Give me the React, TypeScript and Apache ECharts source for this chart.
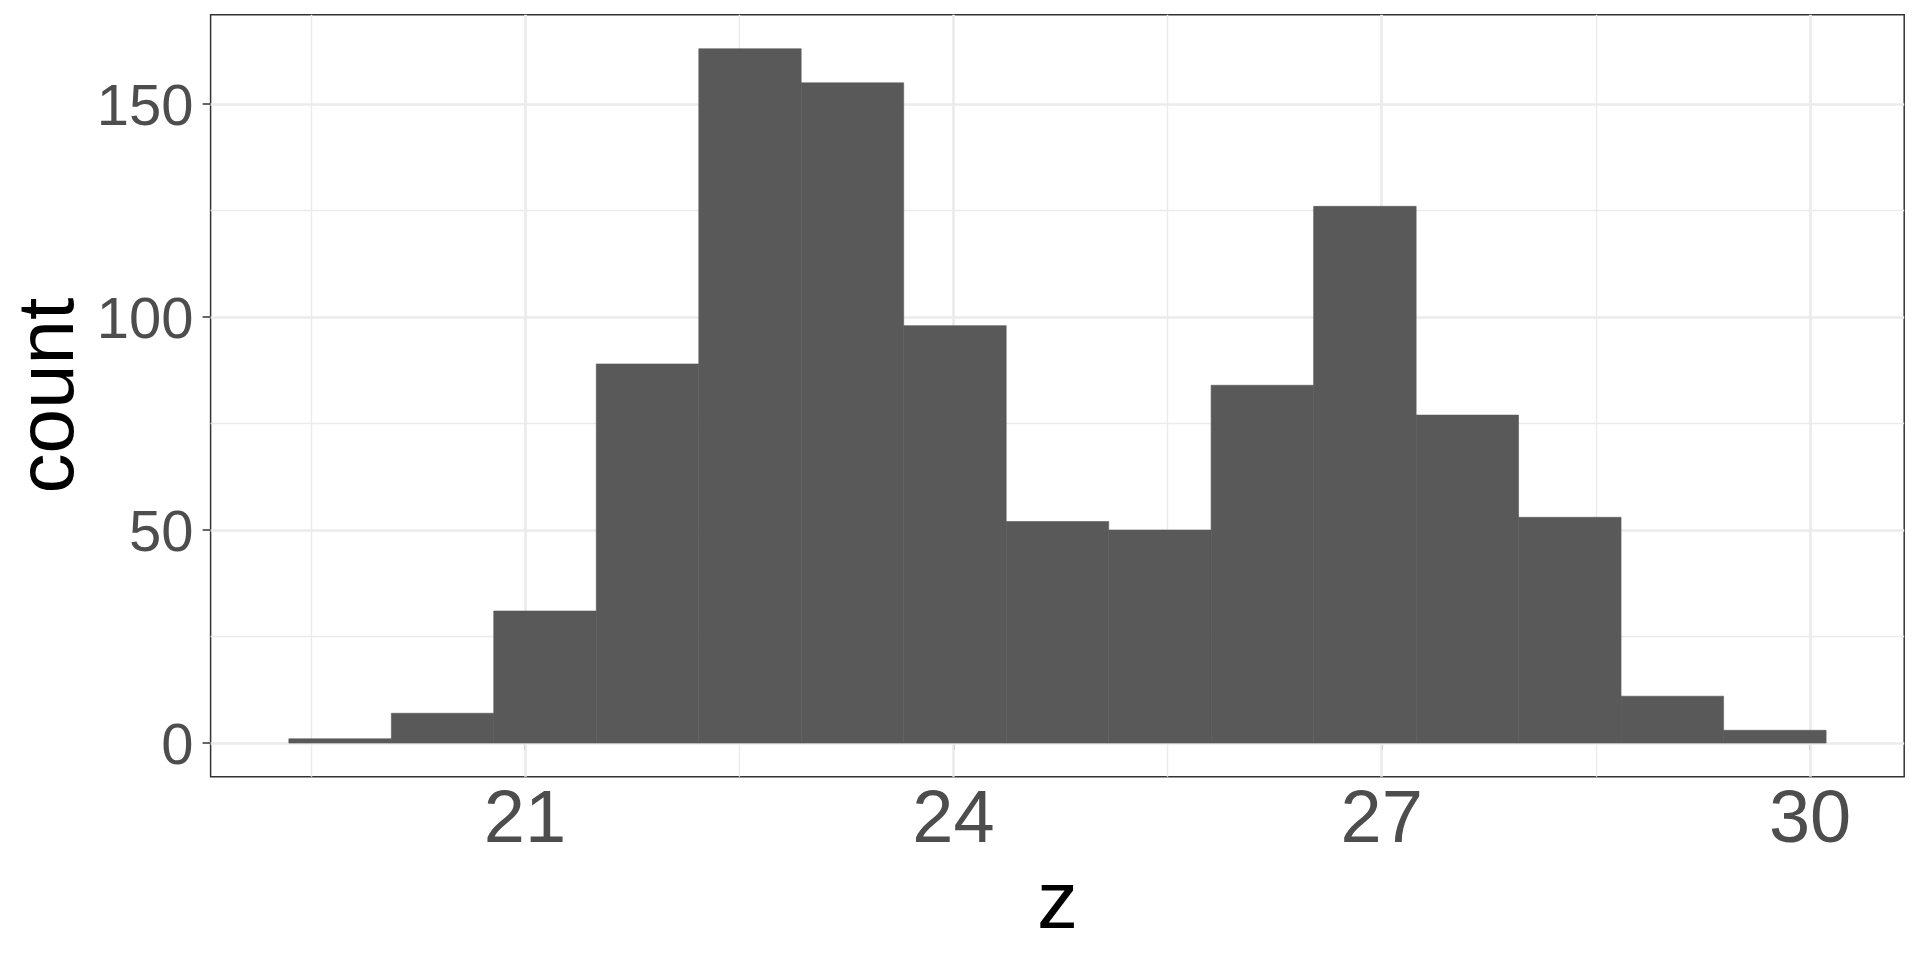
import { useEffect, useRef } from "react";
import * as echarts from "echarts";

// histogram of z, 15 bins
const binEdges = [19.346, 20.064, 20.781, 21.499, 22.217, 22.934, 23.652, 24.37, 25.088, 25.805, 26.523, 27.241, 27.958, 28.676, 29.394, 30.112];
const counts = [1, 7, 31, 89, 163, 155, 98, 52, 50, 84, 126, 77, 53, 11, 3];

const xTicks = [21, 24, 27, 30];
const xMinor = [19.5, 22.5, 25.5, 28.5];
const yTicks = [0, 50, 100, 150];
const yMinor = [25, 75, 125];

const font = '"Liberation Sans", Arial, sans-serif';

export default function App() {
  const chartRef = useRef<HTMLDivElement>(null);

  useEffect(() => {
    document.body.style.margin = "0";
    if (!chartRef.current) return;
    const chart = echarts.init(chartRef.current, null, { renderer: "svg" });

    const bars = counts.map((c, i) => [binEdges[i], binEdges[i + 1], c]);

    const gridLine = (vals: number[], key: "xAxis" | "yAxis", width: number) =>
      vals.map((v) => ({ [key]: v, lineStyle: { color: "#EBEBEB", width, type: "solid" } }));

    const option: echarts.EChartsOption = {
      animation: false,
      backgroundColor: "#ffffff",
      grid: {
        left: 210.6,
        top: 14.7,
        width: 1693.6,
        height: 762,
        show: true,
        borderColor: "#333333",
        borderWidth: 1.5,
        backgroundColor: "transparent",
        outerBoundsMode: "none",
        containLabel: false,
      } as any,
      xAxis: {
        type: "value",
        min: 18.798,
        max: 30.659,
        name: "z",
        nameLocation: "middle",
        nameGap: 76,
        nameTextStyle: { fontFamily: font, fontSize: 82, color: "#000000" },
        axisLine: { show: false },
        splitLine: { show: false },
        axisTick: {
          show: true,
          length: 7,
          lineStyle: { color: "#333333", width: 1.5 },
          customValues: xTicks,
        },
        axisLabel: {
          fontFamily: font,
          fontSize: 74,
          color: "#4D4D4D",
          margin: 3,
          customValues: xTicks,
        },
      } as any,
      yAxis: {
        type: "value",
        min: -7.9,
        max: 171,
        name: "count",
        nameLocation: "middle",
        nameGap: 114,
        nameTextStyle: { fontFamily: font, fontSize: 80, lineHeight: 80, color: "#000000" },
        axisLine: { show: false },
        splitLine: { show: false },
        axisTick: {
          show: true,
          length: 8,
          lineStyle: { color: "#333333", width: 1.5 },
          customValues: yTicks,
        },
        axisLabel: {
          fontFamily: font,
          fontSize: 58,
          color: "#4D4D4D",
          margin: 17,
          customValues: yTicks,
        },
      } as any,
      series: [
        {
          type: "line",
          data: [],
          z: 1,
          silent: true,
          markLine: {
            z: 1,
            silent: true,
            symbol: ["none", "none"],
            label: { show: false },
            emphasis: { disabled: true },
            data: [
              ...gridLine(xMinor, "xAxis", 1.4),
              ...gridLine(yMinor, "yAxis", 1.4),
              ...gridLine(xTicks, "xAxis", 2.7),
              ...gridLine(yTicks, "yAxis", 2.7),
            ] as any,
          } as any,
        },
        {
          type: "custom",
          z: 10,
          silent: true,
          data: bars,
          encode: { x: [0, 1], y: 2 },
          renderItem: (params: any, api: any) => {
            const p0 = api.coord([api.value(0), api.value(2)]);
            const p1 = api.coord([api.value(1), 0]);
            return {
              type: "rect",
              shape: { x: p0[0], y: p0[1], width: p1[0] - p0[0], height: p1[1] - p0[1] },
              style: { fill: "#595959", stroke: "#595959", lineWidth: 0.6 },
            };
          },
        },
      ],
    };

    chart.setOption(option);
    return () => chart.dispose();
  }, []);

  return <div ref={chartRef} style={{ width: "1920px", height: "960px" }} />;
}
